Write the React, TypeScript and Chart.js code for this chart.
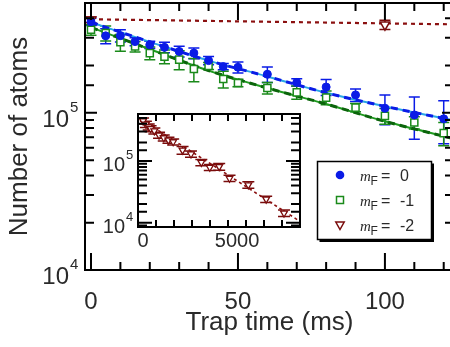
import React, { useEffect, useRef } from 'react';
import { Chart, registerables } from 'chart.js';

Chart.register(...registerables);

const FONT = '"Liberation Sans", Arial, Helvetica, sans-serif';
const SERIF = '"Liberation Serif", "Times New Roman", serif';
const TEXT = '#2a2a2a';

const BLUE = '#0a1be6';
const BLUE_LIGHT = '#2aa6e6';
const GREEN = '#1a8a1a';
const GREEN_DARK = '#0b640b';
const RED = '#7a0c0c';

// ---- main plot data (trap time in ms, number of atoms) ----
const trapTimes = [0, 5, 10, 15, 20, 25, 30, 35, 40, 45, 50, 60, 70, 80, 90, 100, 110, 120];
const mF0Atoms = [3.8e5, 3.09e5, 3.1e5, 2.84e5, 2.71e5, 2.61e5, 2.46e5, 2.4e5, 2.15e5, 1.97e5, 1.95e5, 1.76e5, 1.56e5, 1.46e5, 1.3e5, 1.07e5, 9.7e4, 9.16e4];
const mF0Err = [2.0e4, 3.4e4, 2.8e4, 1.7e4, 1.4e4, 2.0e4, 1.9e4, 1.9e4, 1.3e4, 9e3, 1.6e4, 2.0e4, 8.6e3, 1.7e4, 1.2e4, 2.3e4, 2.9e4, 2.8e4];
const mF1Atoms = [3.38e5, 3.22e5, 2.81e5, 2.64e5, 2.4e5, 2.28e5, 2.18e5, 1.9e5, 1.99e5, 1.64e5, 1.55e5, 1.44e5, 1.35e5, 1.25e5, 1.08e5, 9.57e4, 8.67e4, 7.43e4];
const mF1Err = [2.6e4, 3.5e4, 3.4e4, 2.0e4, 2.2e4, 2.3e4, 3.0e4, 3.2e4, 1.0e4, 2.0e4, 8.5e3, 1.2e4, 1.3e4, 1.25e4, 6.5e3, 1.1e4, 7.8e3, 1.26e4];
const mF2Times = [0, 100];
const mF2Atoms = [3.91e5, 3.64e5];
const mF2Err = [1.7e4, 2.5e4];

// fitted curves
const fitTimes = [0, 20, 40, 60, 80, 100, 124];
const fitMF0 = [3.77e5, 2.83e5, 2.15e5, 1.705e5, 1.341e5, 1.1e5, 8.9e4];
const fitMF1 = [3.5e5, 2.54e5, 1.857e5, 1.439e5, 1.138e5, 8.83e4, 6.8e4];
const fitMF2Times = [0, 124];
const fitMF2 = [3.94e5, 3.655e5];

// ---- inset data (long hold, mF = -2) ----
const holdTimes = [0, 150, 300, 400, 600, 850, 1100, 1350, 1600, 2100, 2550, 3100, 3550, 4050, 4600, 5600, 6550, 7500];
const mF2Long = [4.47e5, 3.95e5, 3.57e5, 3.36e5, 3.08e5, 2.63e5, 2.38e5, 2.18e5, 2.05e5, 1.5e5, 1.3e5, 9.5e4, 7.9e4, 8.1e4, 5.25e4, 4.1e4, 2.41e4, 1.43e4];
const mF2LongErr = [5e4, 4.5e4, 4e4, 3.8e4, 3.5e4, 3e4, 2.7e4, 2.5e4, 2.3e4, 2.2e4, 1.5e4, 1.1e4, 9e3, 1e4, 6e3, 5e3, 2.8e3, 1.7e3];
const insetFitTimes = [0, 4000, 8200];
const insetFit = [4.5e5, 7.5e4, 1.12e4];

// ---- tick labels ----
const mainXLabels = [0, 50, 100];
const mainYDecades = [4, 5];
const insetXLabels = [0, 5000];
const insetYDecades = [4, 5];
const legendValues = ['0', '-1', '-2'];

type Pt = { x: number; y: number };
const pts = (xs: number[], ys: number[]): Pt[] => xs.map((x, i) => ({ x, y: ys[i] }));

const zeroPad = (s: any) => {
  s.paddingTop = 0;
  s.paddingBottom = 0;
  s.paddingLeft = 0;
  s.paddingRight = 0;
};

const errorBarPlugin = {
  id: 'errorBars',
  beforeDatasetsDraw(chart: any) {
    const ctx = chart.ctx;
    const xs = chart.scales.x;
    const ys = chart.scales.y;
    const a = chart.chartArea;
    ctx.save();
    ctx.beginPath();
    ctx.rect(a.left, a.top, a.right - a.left, a.bottom - a.top);
    ctx.clip();
    chart.data.datasets.forEach((ds: any) => {
      const err: number[] | undefined = ds.errors;
      if (!err) return;
      ctx.strokeStyle = ds.borderColor;
      ctx.lineWidth = ds.errWidth || 1.5;
      const w = (ds.capWidth || 11) / 2;
      ds.data.forEach((p: Pt, j: number) => {
        const x = xs.getPixelForValue(p.x);
        const y1 = ys.getPixelForValue(Math.max(p.y - err[j], 1));
        const y2 = ys.getPixelForValue(p.y + err[j]);
        ctx.beginPath();
        ctx.moveTo(x, y1);
        ctx.lineTo(x, y2);
        ctx.moveTo(x - w, y1);
        ctx.lineTo(x + w, y1);
        ctx.moveTo(x - w, y2);
        ctx.lineTo(x + w, y2);
        ctx.stroke();
      });
    });
    ctx.restore();
  },
};

function makeFramePlugin(cfg: {
  lw: number;
  xMajorVals: number[];
  xMajorLen: number;
  xMinorLen: number;
  yMajorLen: number;
  yMinorLen: number;
  decades: number[];
  labelRight: number;
  baseSize: number;
  supSize: number;
  baseDy: number;
  supDy: number;
  bg: boolean;
  xLabels?: number[];
  xLabelSize?: number;
  xLabelBaseline?: number;
}) {
  return {
    id: 'frame',
    beforeDraw(chart: any) {
      if (!cfg.bg) return;
      const a = chart.chartArea;
      const ctx = chart.ctx;
      ctx.save();
      ctx.fillStyle = '#ffffff';
      ctx.fillRect(a.left, a.top, a.right - a.left, a.bottom - a.top);
      ctx.restore();
    },
    afterDraw(chart: any) {
      const ctx = chart.ctx;
      const a = chart.chartArea;
      const xs = chart.scales.x;
      const ys = chart.scales.y;
      ctx.save();
      ctx.strokeStyle = '#000';
      ctx.lineWidth = cfg.lw;
      ctx.strokeRect(a.left, a.top, a.right - a.left, a.bottom - a.top);
      ctx.beginPath();
      xs.ticks.forEach((t: any) => {
        const x = xs.getPixelForValue(t.value);
        if (x < a.left - 0.5 || x > a.right + 0.5) return;
        const len = cfg.xMajorVals.includes(t.value) ? cfg.xMajorLen : cfg.xMinorLen;
        ctx.moveTo(x, a.bottom);
        ctx.lineTo(x, a.bottom - len);
        ctx.moveTo(x, a.top);
        ctx.lineTo(x, a.top + len);
      });
      ys.ticks.forEach((t: any) => {
        const y = ys.getPixelForValue(t.value);
        if (y < a.top - 0.5 || y > a.bottom + 0.5) return;
        const lg = Math.log10(t.value);
        const major = Math.abs(lg - Math.round(lg)) < 1e-6;
        const len = major ? cfg.yMajorLen : cfg.yMinorLen;
        ctx.moveTo(a.left, y);
        ctx.lineTo(a.left + len, y);
        ctx.moveTo(a.right, y);
        ctx.lineTo(a.right - len, y);
      });
      ctx.stroke();
      ctx.fillStyle = TEXT;
      ctx.textBaseline = 'alphabetic';
      // decade labels 10^n
      cfg.decades.forEach((d) => {
        const y = ys.getPixelForValue(Math.pow(10, d));
        ctx.font = `${cfg.baseSize}px ${FONT}`;
        ctx.textAlign = 'right';
        ctx.fillText('10', cfg.labelRight, y + cfg.baseDy);
        ctx.font = `${cfg.supSize}px ${FONT}`;
        ctx.textAlign = 'left';
        ctx.fillText(String(d), cfg.labelRight + 1, y + cfg.supDy);
      });
      if (cfg.xLabels) {
        ctx.font = `${cfg.xLabelSize}px ${FONT}`;
        ctx.textAlign = 'center';
        cfg.xLabels.forEach((v) => {
          ctx.fillText(String(v), xs.getPixelForValue(v), cfg.xLabelBaseline as number);
        });
      }
      ctx.restore();
    },
  };
}

const legendPlugin = {
  id: 'legendBox',
  afterDraw(chart: any) {
    const ctx = chart.ctx;
    ctx.save();
    ctx.fillStyle = '#000';
    ctx.fillRect(319.5, 239.5, 114, 2.5);
    ctx.fillRect(431.5, 163.5, 2.5, 78.5);
    ctx.fillStyle = '#fff';
    ctx.fillRect(317.5, 161.5, 114, 78);
    ctx.strokeStyle = '#000';
    ctx.lineWidth = 1.5;
    ctx.strokeRect(317.5, 161.5, 114, 78);
    const rows = [175, 200, 225];
    legendValues.forEach((v, i) => {
      const cy = rows[i];
      const cx = 340;
      ctx.lineWidth = 1.5;
      if (i === 0) {
        ctx.fillStyle = BLUE;
        ctx.beginPath();
        ctx.arc(cx, cy, 4.3, 0, Math.PI * 2);
        ctx.fill();
      } else if (i === 1) {
        ctx.strokeStyle = GREEN;
        ctx.strokeRect(cx - 3.5, cy - 3.5, 7, 7);
      } else {
        ctx.strokeStyle = RED;
        ctx.beginPath();
        ctx.moveTo(cx - 4.2, cy - 3);
        ctx.lineTo(cx + 4.2, cy - 3);
        ctx.lineTo(cx, cy + 4.5);
        ctx.closePath();
        ctx.stroke();
      }
      const by = cy + 6;
      ctx.fillStyle = TEXT;
      ctx.textAlign = 'left';
      ctx.textBaseline = 'alphabetic';
      ctx.font = `italic 15px ${SERIF}`;
      ctx.fillText('m', 360, by);
      ctx.font = `12px ${FONT}`;
      ctx.fillText('F', 370.5, by + 4);
      ctx.font = `16px ${FONT}`;
      ctx.fillText('=', 381, by);
      ctx.fillText(v, 400, by);
    });
    ctx.restore();
  },
};

export default function App() {
  const mainRef = useRef<HTMLCanvasElement>(null);
  const insetRef = useRef<HTMLCanvasElement>(null);

  useEffect(() => {
    if (!mainRef.current || !insetRef.current) return;

    const main = new Chart(mainRef.current, {
      type: 'scatter',
      data: {
        datasets: [
          {
            label: 'mF = 0',
            data: pts(trapTimes, mF0Atoms),
            errors: mF0Err,
            capWidth: 11,
            pointStyle: 'circle',
            pointRadius: 4,
            backgroundColor: BLUE,
            borderColor: BLUE,
            borderWidth: 1,
            showLine: false,
          } as any,
          {
            label: 'mF = -1',
            data: pts(trapTimes, mF1Atoms),
            errors: mF1Err,
            capWidth: 11,
            pointStyle: 'rect',
            pointRadius: 5,
            backgroundColor: '#ffffff',
            borderColor: GREEN,
            borderWidth: 1.5,
            showLine: false,
          } as any,
          {
            label: 'mF = -2',
            data: pts(mF2Times, mF2Atoms),
            errors: mF2Err,
            capWidth: 11,
            pointStyle: 'triangle',
            pointRotation: 180,
            pointRadius: 5.5,
            backgroundColor: '#ffffff',
            borderColor: RED,
            borderWidth: 1.5,
            showLine: false,
          } as any,
          {
            label: 'fit 0 dashed',
            data: pts(fitTimes, fitMF0),
            showLine: true,
            pointRadius: 0,
            borderColor: BLUE,
            borderWidth: 3,
            borderDash: [7, 5],
            cubicInterpolationMode: 'monotone',
          } as any,
          {
            label: 'fit 0',
            data: pts(fitTimes, fitMF0),
            showLine: true,
            pointRadius: 0,
            borderColor: BLUE_LIGHT,
            borderWidth: 2,
            cubicInterpolationMode: 'monotone',
          } as any,
          {
            label: 'fit -1 dashed',
            data: pts(fitTimes, fitMF1),
            showLine: true,
            pointRadius: 0,
            borderColor: GREEN_DARK,
            borderWidth: 3,
            borderDash: [7, 5],
            cubicInterpolationMode: 'monotone',
          } as any,
          {
            label: 'fit -1',
            data: pts(fitTimes, fitMF1),
            showLine: true,
            pointRadius: 0,
            borderColor: '#1f9a1f',
            borderWidth: 2,
            cubicInterpolationMode: 'monotone',
          } as any,
          {
            label: 'fit -2',
            data: pts(fitMF2Times, fitMF2),
            showLine: true,
            pointRadius: 0,
            borderColor: '#8b1010',
            borderWidth: 2.2,
            borderDash: [4, 4],
          } as any,
        ],
      },
      options: {
        animation: false,
        responsive: false,
        events: [],
        layout: { autoPadding: false, padding: { top: 3, right: 0, left: 0, bottom: 0 } },
        plugins: {
          legend: { display: false },
          tooltip: { enabled: false },
        },
        scales: {
          x: {
            type: 'linear',
            min: -2.04,
            max: 123.5,
            grid: { display: false },
            border: { display: false },
            ticks: {
              stepSize: 10,
              includeBounds: false,
              autoSkip: false,
              maxRotation: 0,
              padding: 10,
              color: TEXT,
              font: { size: 24, family: FONT },
              callback: (v: any) => (mainXLabels.includes(Number(v)) ? String(v) : ''),
            },
            title: {
              display: true,
              text: 'Trap time (ms)',
              color: TEXT,
              font: { size: 26, family: FONT },
              padding: { top: 0, bottom: 8.4 },
            },
            afterFit: (s: any) => {
              s.height = 77;
              zeroPad(s);
            },
          },
          y: {
            type: 'logarithmic',
            min: 1e4,
            max: 5e5,
            grid: { display: false },
            border: { display: false },
            ticks: { display: false },
            title: {
              display: true,
              text: 'Number of atoms',
              color: TEXT,
              font: { size: 26, family: FONT },
              padding: { top: 4, bottom: 0 },
            },
            afterFit: (s: any) => {
              s.width = 85;
              zeroPad(s);
            },
          },
        },
      } as any,
      plugins: [
        errorBarPlugin,
        makeFramePlugin({
          lw: 2,
          xMajorVals: mainXLabels,
          xMajorLen: 17,
          xMinorLen: 8,
          yMajorLen: 12,
          yMinorLen: 9,
          decades: mainYDecades,
          labelRight: 69,
          baseSize: 24,
          supSize: 15,
          baseDy: 14,
          supDy: -1,
          bg: false,
        }),
        legendPlugin,
      ],
    });

    const inset = new Chart(insetRef.current, {
      type: 'scatter',
      data: {
        datasets: [
          {
            label: 'mF = -2 long',
            data: pts(holdTimes, mF2Long),
            errors: mF2LongErr,
            capWidth: 12,
            errWidth: 1.5,
            pointStyle: 'triangle',
            pointRotation: 180,
            pointRadius: 4,
            backgroundColor: '#ffffff',
            borderColor: RED,
            borderWidth: 1.3,
            showLine: false,
          } as any,
          {
            label: 'fit long',
            data: pts(insetFitTimes, insetFit),
            showLine: true,
            pointRadius: 0,
            borderColor: '#8b1010',
            borderWidth: 1.6,
            borderDash: [3, 3],
          } as any,
        ],
      },
      options: {
        animation: false,
        responsive: false,
        events: [],
        layout: { autoPadding: false, padding: { top: 4, right: 5, left: 0, bottom: 0 } },
        plugins: {
          legend: { display: false },
          tooltip: { enabled: false },
        },
        scales: {
          x: {
            type: 'linear',
            min: -270,
            max: 8350,
            grid: { display: false },
            border: { display: false },
            ticks: { display: false, stepSize: 1000, includeBounds: false },
            afterFit: (s: any) => {
              s.height = 28;
              zeroPad(s);
            },
          },
          y: {
            type: 'logarithmic',
            min: 8.5e3,
            max: 5.78e5,
            grid: { display: false },
            border: { display: false },
            ticks: { display: false },
            afterFit: (s: any) => {
              s.width = 38;
              zeroPad(s);
            },
          },
        },
      } as any,
      plugins: [
        errorBarPlugin,
        makeFramePlugin({
          lw: 2,
          xMajorVals: insetXLabels,
          xMajorLen: 9,
          xMinorLen: 7,
          yMajorLen: 14,
          yMinorLen: 9,
          decades: insetYDecades,
          labelRight: 25,
          baseSize: 20,
          supSize: 13,
          baseDy: 10,
          supDy: -2,
          bg: true,
          xLabels: insetXLabels,
          xLabelSize: 20,
          xLabelBaseline: 136.5,
        }),
      ],
    });

    return () => {
      main.destroy();
      inset.destroy();
    };
  }, []);

  return (
    <div style={{ position: 'absolute', left: 0, top: 0, width: 450, height: 347, background: '#fff', overflow: 'hidden' }}>
      <canvas ref={mainRef} width={454} height={347} style={{ position: 'absolute', left: 0, top: 0, display: 'block' }} />
      <canvas ref={insetRef} width={205} height={145} style={{ position: 'absolute', left: 100, top: 110, display: 'block' }} />
    </div>
  );
}
